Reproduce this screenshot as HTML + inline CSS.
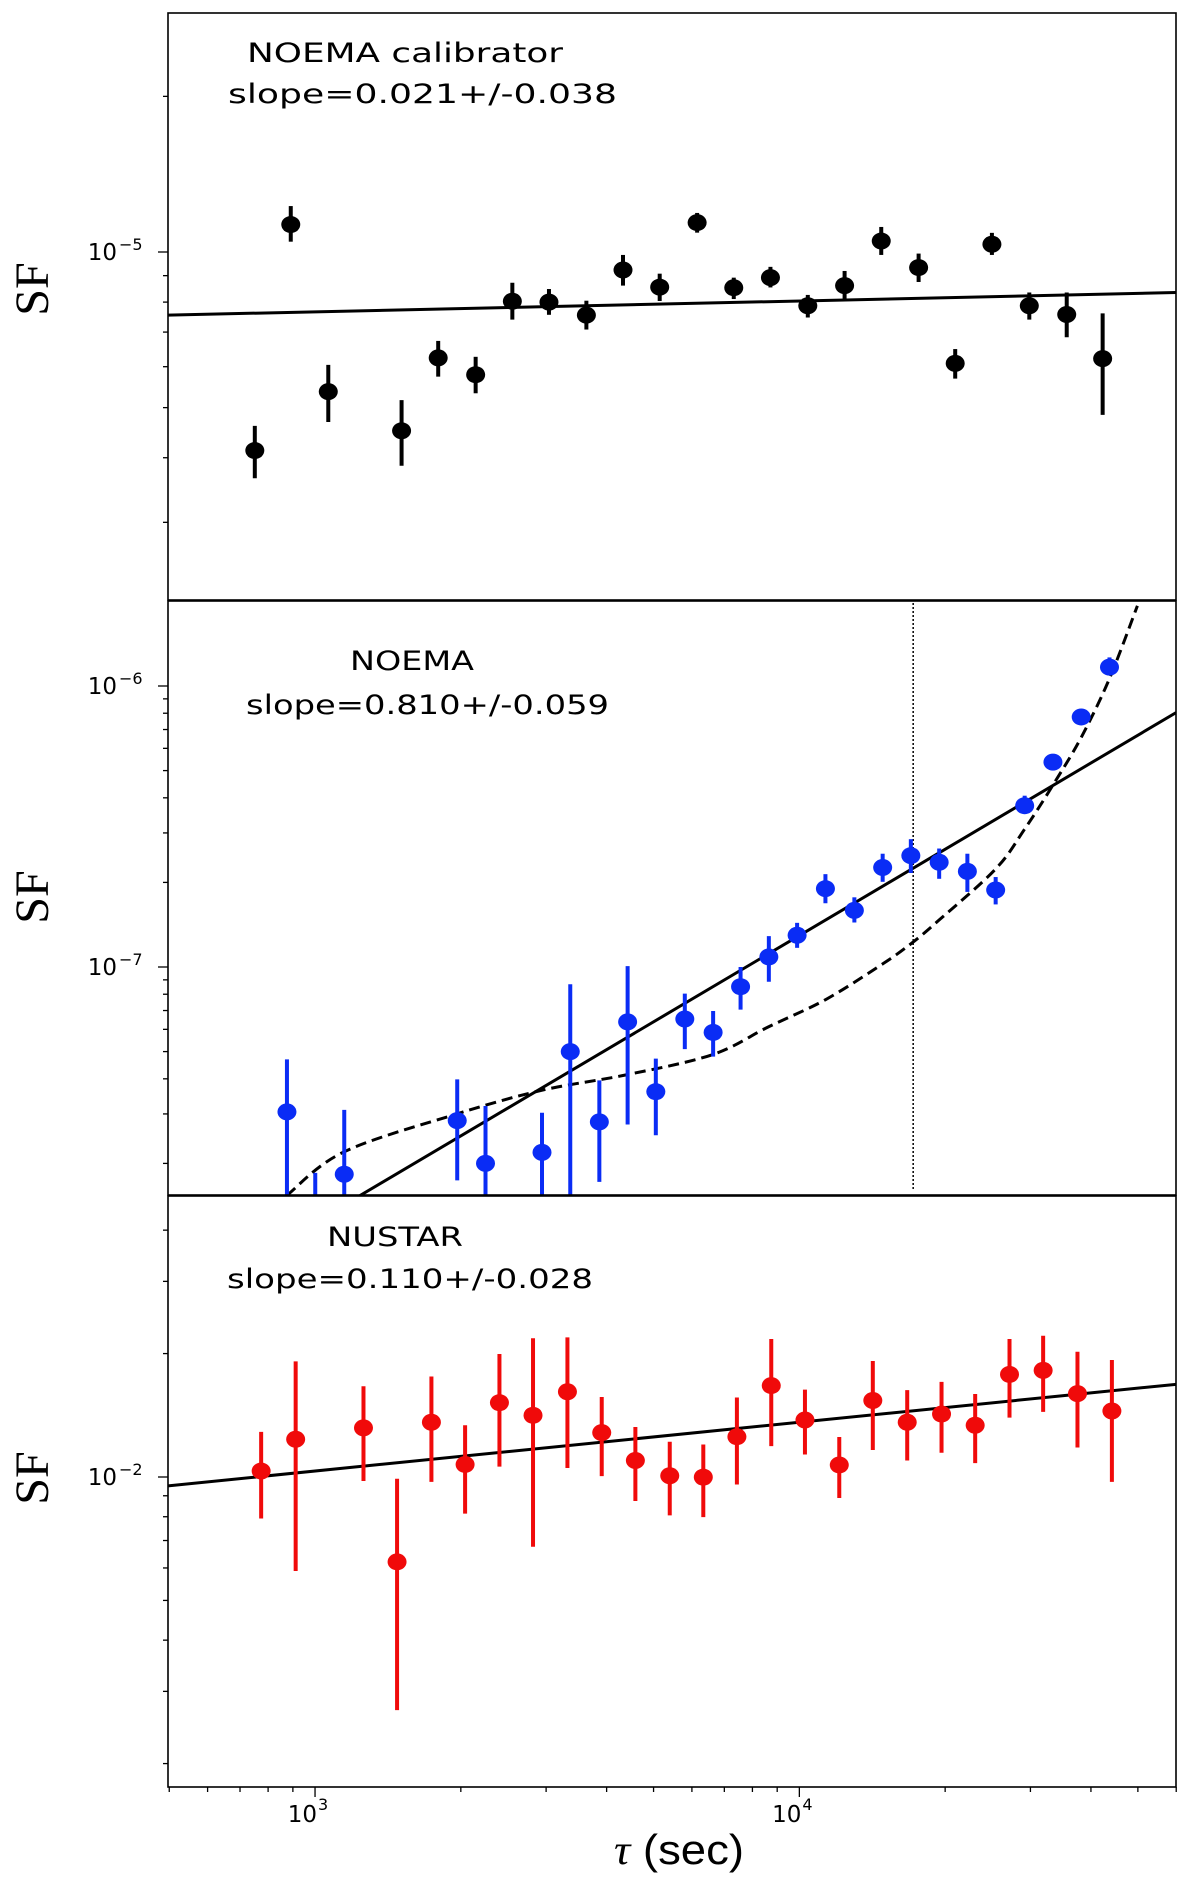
<!DOCTYPE html>
<html><head><meta charset="utf-8">
<style>
html,body{margin:0;padding:0;background:#fff;}
svg{display:block;}
</style></head>
<body>
<svg id="chart" width="1200" height="1882" viewBox="0 0 1200 1882" xmlns="http://www.w3.org/2000/svg">
<defs>
<clipPath id="clip1"><rect x="168" y="13" width="1008" height="587"/></clipPath>
<clipPath id="clip2"><rect x="168" y="601" width="1008" height="594"/></clipPath>
<clipPath id="clip3"><rect x="168" y="1196" width="1008" height="591"/></clipPath>
</defs>
<g id="root"></g>
</svg>
<script>
// ---------- shared x axis ----------
const xTickLabels = ["3", "4"];
const xTickValues = [1e3, 1e4];

// ---------- panel 1: NOEMA calibrator ----------
const calTau = [751,891,1065,1509,1796,2146,2555,3041,3633,4324,5148,6151,7321,8716,10410,12400,14760,17630,20980,24980,29840,35650,42290];
const calSF  = [4.13e-6,1.13e-5,5.37e-6,4.51e-6,6.24e-6,5.79e-6,8.03e-6,8.0e-6,7.55e-6,9.23e-6,8.55e-6,1.14e-5,8.53e-6,8.92e-6,7.87e-6,8.61e-6,1.05e-5,9.33e-6,6.09e-6,1.035e-5,7.87e-6,7.57e-6,6.22e-6];
const calHi  = [4.61e-6,1.227e-5,6.05e-6,5.17e-6,6.73e-6,6.27e-6,8.72e-6,8.48e-6,8.05e-6,9.87e-6,9.08e-6,1.19e-5,8.92e-6,9.36e-6,8.26e-6,9.19e-6,1.118e-5,9.93e-6,6.49e-6,1.089e-5,8.35e-6,8.35e-6,7.61e-6];
const calLo  = [3.65e-6,1.047e-5,4.69e-6,3.86e-6,5.74e-6,5.33e-6,7.40e-6,7.56e-6,7.08e-6,8.61e-6,8.04e-6,1.09e-5,8.11e-6,8.54e-6,7.47e-6,8.08e-6,9.87e-6,8.75e-6,5.69e-6,9.87e-6,7.40e-6,6.84e-6,4.84e-6];
const calFit = [8.04e-6, 0.021]; // amplitude at 1e4 s, slope

// ---------- panel 2: NOEMA ----------
const noeTau = [875,1001,1149,1966,2249,2942,3365,3864,4420,5054,5801,6637,7562,8650,9894,11320,12990,14860,16990,19440,22230,25430,29190,33390,38190,43690];
const noeSF  = [3.05e-8,1.3e-8,1.83e-8,2.84e-8,2.0e-8,2.19e-8,5.0e-8,2.81e-8,6.38e-8,3.6e-8,6.53e-8,5.85e-8,8.51e-8,1.086e-7,1.297e-7,1.90e-7,1.59e-7,2.26e-7,2.49e-7,2.36e-7,2.19e-7,1.88e-7,3.75e-7,5.36e-7,7.76e-7,1.167e-6];
const noeHi  = [4.69e-8,1.85e-8,3.1e-8,3.98e-8,3.2e-8,3.03e-8,8.68e-8,3.95e-8,1.007e-7,4.72e-8,8.04e-8,6.97e-8,1.0e-7,1.288e-7,1.436e-7,2.14e-7,1.77e-7,2.53e-7,2.85e-7,2.64e-7,2.53e-7,2.09e-7,4.07e-7,5.63e-7,8.09e-7,1.264e-6];
const noeLo  = [1.2e-8,8e-9,8e-9,1.74e-8,1.0e-8,1.2e-8,1.0e-8,1.72e-8,2.75e-8,2.52e-8,5.1e-8,4.8e-8,7.05e-8,8.86e-8,1.17e-7,1.686e-7,1.44e-7,2.01e-7,2.16e-7,2.06e-7,1.85e-7,1.67e-7,3.52e-7,5.1e-7,7.41e-7,1.094e-6];
const noeFit = [1.294e-7, 1.02];
const noeCurveTau = [875,1148,1963,2938,4416,6622,8630,11350,14860,16980,19410,25410,29170,33340,38110,43650,49890];
const noeCurveSF  = [1.54e-8,2.20e-8,3.0e-8,3.64e-8,4.14e-8,4.88e-8,6.12e-8,7.67e-8,1.026e-7,1.208e-7,1.466e-7,2.23e-7,3.09e-7,4.42e-7,6.52e-7,1.059e-6,1.93e-6];
const noeBreak = [17180];

// ---------- panel 3: NuSTAR ----------
const nuTau = [774,912,1259,1477,1739,2041,2403,2819,3320,3908,4586,5400,6334,7431,8750,10270,12090,14180,16700,19660,23070,27160,31870,37520,44190];
const nuSF  = [1.034e-2,1.236e-2,1.318e-2,6.21e-3,1.36e-2,1.073e-2,1.518e-2,1.414e-2,1.614e-2,1.283e-2,1.097e-2,1.007e-2,9.99e-3,1.254e-2,1.671e-2,1.377e-2,1.07e-2,1.537e-2,1.36e-2,1.424e-2,1.337e-2,1.779e-2,1.82e-2,1.597e-2,1.449e-2];
const nuHi  = [1.288e-2,1.914e-2,1.665e-2,9.9e-3,1.758e-2,1.337e-2,1.995e-2,2.18e-2,2.19e-2,1.567e-2,1.324e-2,1.219e-2,1.2e-2,1.563e-2,2.17e-2,1.633e-2,1.252e-2,1.919e-2,1.629e-2,1.706e-2,1.594e-2,2.17e-2,2.21e-2,2.02e-2,1.929e-2];
const nuLo  = [7.92e-3,5.9e-3,9.78e-3,2.70e-3,9.73e-3,8.14e-3,1.06e-2,6.76e-3,1.052e-2,1.005e-2,8.74e-3,8.06e-3,7.98e-3,9.59e-3,1.189e-2,1.135e-2,8.89e-3,1.164e-2,1.097e-2,1.146e-2,1.081e-2,1.396e-2,1.442e-2,1.18e-2,9.73e-3];
const nuFit = [1.36e-2, 0.119];

const NS = "http://www.w3.org/2000/svg";
const root = document.getElementById('root');
function mk(tag, attrs, parent){
  const e = document.createElementNS(NS, tag);
  for (const k in attrs) e.setAttribute(k, attrs[k]);
  (parent||root).appendChild(e);
  return e;
}
const X0 = 168, X1 = 1176, XLMIN = 2.6964, XLMAX = 4.7777;
function xs(t){ return X0 + (Math.log10(t) - XLMIN) / (XLMAX - XLMIN) * (X1 - X0); }
function yScale(refExp, refPx, decPx){ return v => refPx - (Math.log10(v) - refExp) * decPx; }
function smoothPath(pts){
  let d = 'M' + pts[0][0].toFixed(1) + ',' + pts[0][1].toFixed(1);
  for (let i = 0; i < pts.length - 1; i++){
    const p0 = pts[Math.max(i-1,0)], p1 = pts[i], p2 = pts[i+1], p3 = pts[Math.min(i+2, pts.length-1)];
    const c1x = p1[0] + (p2[0]-p0[0])/6, c1y = p1[1] + (p2[1]-p0[1])/6;
    const c2x = p2[0] - (p3[0]-p1[0])/6, c2y = p2[1] - (p3[1]-p1[1])/6;
    d += ' C' + c1x.toFixed(1)+','+c1y.toFixed(1)+' '+c2x.toFixed(1)+','+c2y.toFixed(1)+' '+p2[0].toFixed(1)+','+p2[1].toFixed(1);
  }
  return d;
}

const panels = [
  {name:'calibrator', top:13, bot:600, ys:yScale(-5,252,517), clip:'clip1', color:'#000',
   tau:calTau, sf:calSF, hi:calHi, lo:calLo, fit:calFit,
   title:'NOEMA calibrator', tx:247, tw:316, ty:62, slope:'slope=0.021+/-0.038', sx:228, sw:389, sy:103, sfy:289},
  {name:'noema', top:601, bot:1195, ys:yScale(-6,686,281), clip:'clip2', color:'#0a2cf5',
   tau:noeTau, sf:noeSF, hi:noeHi, lo:noeLo, fit:noeFit,
   title:'NOEMA', tx:350, tw:124, ty:670, slope:'slope=0.810+/-0.059', sx:246, sw:363, sy:714, sfy:897},
  {name:'nustar', top:1196, bot:1787, ys:yScale(-2,1477,410), clip:'clip3', color:'#f00a0a',
   tau:nuTau, sf:nuSF, hi:nuHi, lo:nuLo, fit:nuFit,
   title:'NUSTAR', tx:327, tw:136, ty:1246, slope:'slope=0.110+/-0.028', sx:227, sw:366, sy:1288, sfy:1478}
];

panels.forEach(p => {
  const g = mk('g', {});
  
  
  for (let e = -9; e <= 0; e++){
    for (let m = 1; m <= 9; m++){
      const v = m * Math.pow(10, e);
      const y = p.ys(v);
      if (y < p.top + 1 || y > p.bot - 1) continue;
      const t = mk('line', {x1: X0 - (m===1?10:5), x2: X0, y1: y, y2: y, stroke:'#000', 'stroke-width':1.3}, g);
      
      
      if (m === 1){
        const lab = mk('text', {x:117, y:y+8, 'text-anchor':'end', 'font-family':'DejaVu Sans, Liberation Sans, sans-serif', 'font-size':23, fill:'#000'}, g);
        lab.textContent = '10';
        
        
        const sup = mk('text', {x:119, y:y-2, 'font-family':'DejaVu Sans, Liberation Sans, sans-serif', 'font-size':16, fill:'#000'}, g);
        sup.textContent = '\u2212' + (-e);
        
        
      }
    }
  }
  const cg = mk('g', {'clip-path':'url(#'+p.clip+')'}, g);
  const fy = t => p.ys(p.fit[0] * Math.pow(t/1e4, p.fit[1]));
  const tA = Math.pow(10, XLMIN), tB = Math.pow(10, XLMAX);
  const fl = mk('line', {x1:xs(tA), y1:fy(tA), x2:xs(tB), y2:fy(tB), stroke:'#000', 'stroke-width':3}, cg);
  
  
  if (p.name === 'noema'){
    const pts = noeCurveTau.map((t,i) => [xs(t), p.ys(noeCurveSF[i])]);
    const c = mk('path', {d:smoothPath(pts), fill:'none', stroke:'#000', 'stroke-width':3, 'stroke-dasharray':'11,6'}, cg);
    
    
    const vx = xs(noeBreak[0]);
    const vl = mk('line', {x1:vx, x2:vx, y1:p.top+2, y2:p.bot-6, stroke:'#000', 'stroke-width':1.5, 'stroke-dasharray':'2,2'}, cg);
    
    
  }
  p.tau.forEach((t,i) => {
    const x = xs(t);
    const eb = mk('line', {x1:x, x2:x, y1:p.ys(p.hi[i]), y2:p.ys(p.lo[i]), stroke:p.color, 'stroke-width':4}, cg);
    
    
    const pt = mk('ellipse', {cx:x, cy:p.ys(p.sf[i]), rx:9.5, ry:8.5, fill:p.color}, cg);
    
    
  });
  const fr = mk('rect', {x:X0, y:p.top, width:X1-X0, height:p.bot-p.top, fill:'none', stroke:'#000', 'stroke-width':1.6}, g);
  
  
  const t1 = mk('text', {x:p.tx, y:p.ty, textLength:p.tw, lengthAdjust:'spacingAndGlyphs', 'font-family':'DejaVu Sans, Liberation Sans, sans-serif', 'font-size':27, fill:'#000'}, g);
  t1.textContent = p.title;
  
  
  const t2 = mk('text', {x:p.sx, y:p.sy, textLength:p.sw, lengthAdjust:'spacingAndGlyphs', 'font-family':'DejaVu Sans, Liberation Sans, sans-serif', 'font-size':27, fill:'#000'}, g);
  t2.textContent = p.slope;
  
  
  const yl = mk('text', {x:0, y:0, transform:'translate(48,'+p.sfy+') rotate(-90)', 'text-anchor':'middle', 'font-family':'Liberation Serif, serif', 'font-size':48, fill:'#000'}, g);
  yl.textContent = 'SF';
  
  
});

const xg = mk('g', {});


for (let e = 2; e <= 4; e++){
  for (let m = 1; m <= 9; m++){
    const v = m * Math.pow(10, e);
    const x = xs(v);
    if (x < X0 - 0.5 || x > X1 + 0.5) continue;
    const t = mk('line', {x1:x, x2:x, y1:1787, y2:1787 + (m===1?10:5), stroke:'#000', 'stroke-width':1.3}, xg);
    
    
  }
}
xTickValues.forEach((v,i) => {
  const x = xs(v);
  const l = mk('text', {x:x+2, y:1822, 'text-anchor':'end', 'font-family':'DejaVu Sans, Liberation Sans, sans-serif', 'font-size':23, fill:'#000'}, xg);
  l.textContent = '10';
  
  
  const s = mk('text', {x:x+3, y:1810, 'font-family':'DejaVu Sans, Liberation Sans, sans-serif', 'font-size':16, fill:'#000'}, xg);
  s.textContent = xTickLabels[i];
  
  
});
const xl = mk('text', {x:614, y:1864, textLength:130, lengthAdjust:'spacingAndGlyphs', 'font-family':'Liberation Sans, sans-serif', 'font-size':42, fill:'#000'}, xg);
xl.innerHTML = '<tspan font-family="Liberation Serif, serif" font-style="italic">\u03c4</tspan> (sec)';


</script>
</body></html>
